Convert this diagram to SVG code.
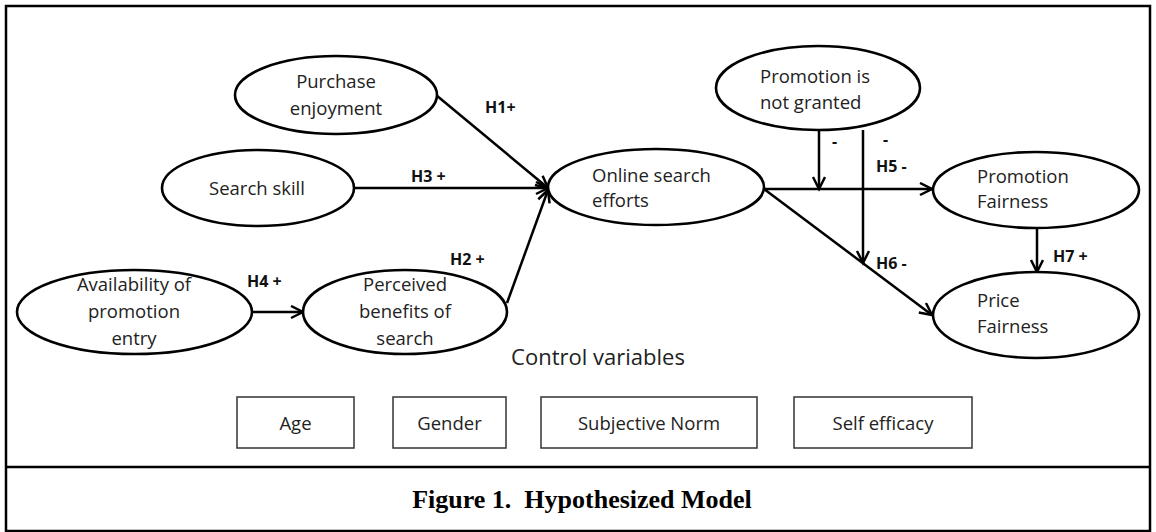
<svg xmlns="http://www.w3.org/2000/svg" width="1156" height="532" viewBox="0 0 1156 532">
<style>
.node ellipse{fill:#fff;stroke:#000;stroke-width:2.6}
.t{font-family:"Open Sans","Liberation Sans",sans-serif;font-size:18.5px;fill:#222}
.c{text-anchor:middle}
.lbl{font-family:"Open Sans","Liberation Sans",sans-serif;font-size:16px;font-weight:bold;fill:#111}
.box rect{fill:#fff;stroke:#333;stroke-width:1.5}
.conn line{stroke:#000;stroke-width:2.5;marker-end:url(#arr)}
</style>
<defs>
<marker id="arr" markerUnits="userSpaceOnUse" markerWidth="16" markerHeight="16" refX="13" refY="7" orient="auto">
<path d="M1,1 L13,7 L1,13" fill="none" stroke="#000" stroke-width="2.5"/>
</marker>
</defs>
<rect x="6" y="6" width="1144" height="525" fill="#fff" stroke="#000" stroke-width="2.5"/>
<line x1="6" y1="467" x2="1150" y2="467" stroke="#000" stroke-width="2.5"/>

<g id="connectors" class="conn">
<line x1="436" y1="95" x2="548" y2="188"/>
<line x1="354" y1="188" x2="548" y2="188"/>
<line x1="507" y1="303" x2="548" y2="190"/>
<line x1="252" y1="312" x2="303" y2="312"/>
<line x1="764" y1="189" x2="932" y2="189"/>
<line x1="764" y1="189" x2="932" y2="315"/>
<line x1="819" y1="130" x2="819" y2="189"/>
<line x1="863" y1="130" x2="863" y2="263"/>
<line x1="1037" y1="228" x2="1037" y2="272"/>
</g>

<g id="purchase-enjoyment" class="node">
<ellipse cx="336" cy="95" rx="101" ry="39"/>
<text class="t c" x="336" y="88">Purchase</text>
<text class="t c" x="336" y="115">enjoyment</text>
</g>
<g id="search-skill" class="node">
<ellipse cx="258" cy="188" rx="96" ry="38"/>
<text class="t c" x="257" y="195">Search skill</text>
</g>
<g id="online-search-efforts" class="node">
<ellipse cx="656" cy="187" rx="108" ry="38"/>
<text class="t" x="592" y="182">Online search</text>
<text class="t" x="592" y="207">efforts</text>
</g>
<g id="promotion-not-granted" class="node">
<ellipse cx="818" cy="88" rx="102" ry="42"/>
<text class="t" x="760" y="83">Promotion is</text>
<text class="t" x="760" y="109">not granted</text>
</g>
<g id="promotion-fairness" class="node">
<ellipse cx="1036" cy="190" rx="103" ry="38"/>
<text class="t" x="977" y="183">Promotion</text>
<text class="t" x="977" y="208">Fairness</text>
</g>
<g id="price-fairness" class="node">
<ellipse cx="1036" cy="315" rx="103" ry="43"/>
<text class="t" x="977" y="307">Price</text>
<text class="t" x="977" y="333">Fairness</text>
</g>
<g id="availability" class="node">
<ellipse cx="134.5" cy="312" rx="117.5" ry="42"/>
<text class="t c" x="134" y="291">Availability of</text>
<text class="t c" x="134" y="318">promotion</text>
<text class="t c" x="134" y="345">entry</text>
</g>
<g id="perceived-benefits" class="node">
<ellipse cx="405" cy="312" rx="102" ry="42"/>
<text class="t c" x="405" y="291">Perceived</text>
<text class="t c" x="405" y="318">benefits of</text>
<text class="t c" x="405" y="345">search</text>
</g>

<g id="labels">
<text class="lbl" x="485" y="113">H1+</text>
<text class="lbl" x="411" y="182">H3 +</text>
<text class="lbl" x="450" y="265">H2 +</text>
<text class="lbl" x="247" y="287">H4 +</text>
<text class="lbl" x="832" y="147">-</text>
<text class="lbl" x="883" y="145">-</text>
<text class="lbl" x="876" y="172">H5 -</text>
<text class="lbl" x="876" y="269">H6 -</text>
<text class="lbl" x="1053" y="262">H7 +</text>
</g>

<text class="t c" x="598" y="365" style="font-size:22px">Control variables</text>

<g id="age" class="box">
<rect x="237" y="397" width="117" height="51"/>
<text class="t c" x="295.5" y="430">Age</text>
</g>
<g id="gender" class="box">
<rect x="393" y="397" width="113" height="51"/>
<text class="t c" x="449.5" y="430">Gender</text>
</g>
<g id="subjective-norm" class="box">
<rect x="541" y="397" width="216" height="51"/>
<text class="t c" x="649" y="430">Subjective Norm</text>
</g>
<g id="self-efficacy" class="box">
<rect x="794" y="397" width="178" height="51"/>
<text class="t c" x="883" y="430">Self efficacy</text>
</g>

<text x="582" y="508" text-anchor="middle" style="font-family:'Liberation Serif','Times New Roman',serif;font-size:26px;font-weight:bold">Figure 1.&#160; Hypothesized Model</text>
</svg>
